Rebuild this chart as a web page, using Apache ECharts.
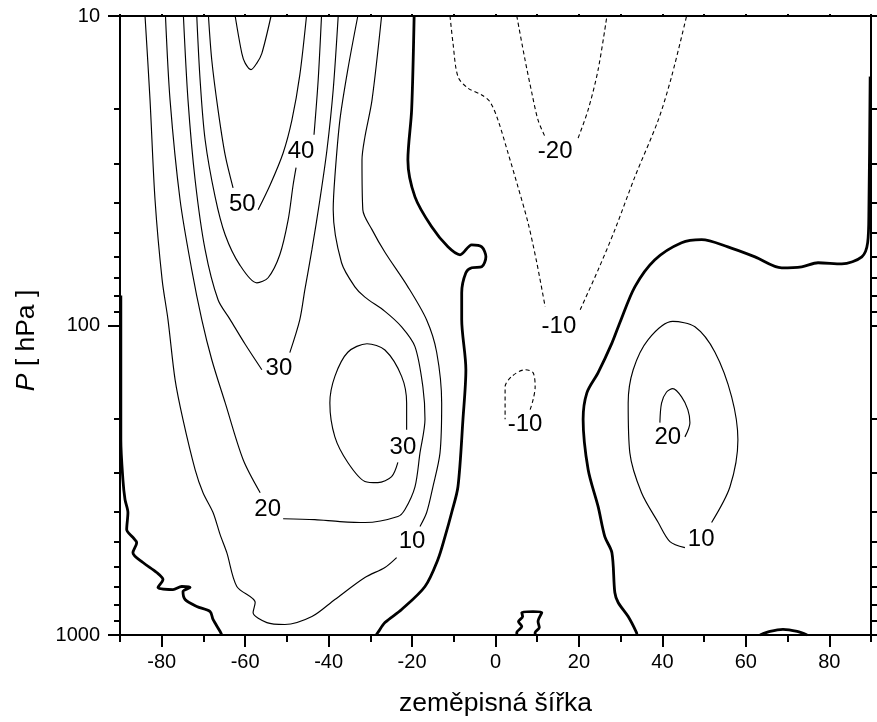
<!DOCTYPE html>
<html>
<head>
<meta charset="utf-8">
<script src="https://cdn.jsdelivr.net/npm/echarts@6/dist/echarts.min.js"></script>
<style>
html, body { margin: 0; padding: 0; background: #fff; }
#chart { width: 877px; height: 722px; }
</style>
</head>
<body>
<div id="chart"></div>
<script>
// ticks
var xMajor = [-80, -60, -40, -20, 0, 20, 40, 60, 80];
var xMinor = [-90, -70, -50, -30, -10, 10, 30, 50, 70, 90];
var xTop = [-90, -80, -70, -60, -50, -40, -30, -20, -10, 0, 10, 20, 30, 40, 50, 60, 70, 80, 90];
var yMajor = [10, 100, 1000];
var yMinor = [20, 30, 40, 50, 60, 70, 80, 90, 200, 300, 400, 500, 600, 700, 800, 900];

// contours [latitude, hPa]; "a"/"b" = pieces either side of the label
var c10a = [[-84.0,10],[-82.8,18.7],[-81.6,39.3],[-79.9,71.2],[-78.5,95.7],[-76.8,149.6],[-74.9,201.5],[-72.0,292],[-70.1,347],[-67.7,402],[-66.0,474],[-64.4,542],[-62.0,697],[-57.6,785],[-58.1,846],[-54.8,912],[-50.5,925],[-44.0,872],[-38.5,768],[-31.3,652],[-26.5,605],[-23.7,562]];
var c10b = [[-18.1,446],[-16.5,402],[-15.0,332],[-13.3,258],[-12.9,178],[-14.1,122],[-16.5,96],[-21.0,75],[-26.5,58],[-29.6,49],[-31.8,42.3],[-32.0,29.2],[-31.3,24.6],[-29.6,18.7],[-27.3,10]];
var c20a = [[-79.1,10],[-78.0,18.7],[-75.6,39.3],[-72.8,66.1],[-70.4,95.7],[-68.0,129],[-64.8,177.6],[-60.5,271],[-56.4,347]];
var c20b = [[-50.9,421],[-43.3,424],[-37.3,430],[-31.3,433],[-23.4,414],[-21.7,393],[-19.3,332],[-18.1,258],[-16.9,201],[-17.4,158],[-19.3,117],[-22.5,101],[-26.5,90],[-31.3,81],[-33.7,75],[-36.9,62.7],[-38.9,42.3],[-38.5,33.1],[-37.3,21.7],[-35.4,14.9],[-33.0,10]];
var c30a = [[-74.8,10],[-73.7,18.7],[-72.0,33.8],[-69.6,56.9],[-66.5,82.6],[-63.6,95.7],[-60.0,115],[-56.0,139]];
var c30b = [[-49.3,122.4],[-46.9,95.7],[-45.7,76.7],[-44.0,56.9],[-42.1,39.3],[-40.4,27.1],[-38.9,17.3],[-37.7,10]];
var c40a = [[-71.6,10],[-70.8,16.1],[-69.6,25.1],[-67.2,38.4],[-64.8,50.9],[-61.3,63.7],[-57.2,72.8],[-54.5,70.1],[-51.7,59.1],[-49.7,45.6],[-48.5,35.1],[-47.8,30.9]];
var c40b = [[-43.5,24.2],[-42.5,16.1],[-41.7,10]];
var c50a = [[-68.8,10],[-68.0,13.9],[-66.5,20.1],[-64.8,28.1],[-62.9,35.9]];
var c50b = [[-56.9,42.3],[-54.0,35.1],[-50.9,27.7],[-48.8,21.7],[-46.9,15.5],[-45.3,10]];
var c60 = [[-62.4,10],[-60.8,13.2],[-60.0,14.2],[-58.6,14.9],[-57.2,14.2],[-56.0,13.2],[-53.8,10]];
var c30loop = [[-21.3,217],[-21.3,178],[-22.5,146],[-26.5,120],[-30.8,114.5],[-35.4,122],[-38.5,146],[-39.7,178],[-38.5,229],[-35.4,277],[-31.3,319],[-28.2,322],[-24.9,308],[-23.4,277]];
var c10right = [[51.8,433],[56.2,332],[58.1,234],[56.6,170],[52.6,122],[47.8,101],[42.5,97],[36.6,111],[33.0,139],[31.8,178],[32.2,258],[35.0,347],[39.0,433],[41.8,499],[45.4,522]];
var c20right = [[39.4,206],[39.8,178],[41.0,164],[42.5,160],[44.6,170],[46.1,187],[46.6,206],[45.4,229]];

// zero line (thick)
var z0mid = [[-19.5,10],[-20.1,20.1],[-21.0,29.2],[-19.3,38.4],[-15.3,48],[-11.4,55.7],[-8.5,59.1],[-5.7,54.9],[-3.3,55.7],[-2.3,60],[-3.3,64.6],[-5.7,65.1],[-7.1,67.5],[-8.1,78.4],[-8.1,95.7],[-7.1,139],[-7.8,201],[-9.0,332],[-10.5,402],[-12.1,481],[-13.8,570],[-16.9,697],[-22.5,827],[-26.5,912],[-28.2,982],[-28.6,1000]];
var z0left = [[-89.8,80],[-89.8,234],[-89.3,315],[-88.8,365],[-88.1,402],[-88.4,456],[-86.9,484],[-86.0,503],[-86.9,542],[-84.5,583],[-81.2,628],[-79.7,662],[-80.9,702],[-77.3,713],[-75.2,697],[-73.2,702],[-74.9,724],[-74.4,768],[-71.6,809],[-68.4,840],[-67.7,891],[-66.0,974],[-65.6,1000]];
var z0blob = [[5.1,1000],[5.1,982],[6.3,939],[5.5,905],[6.5,872],[6.3,846],[9.0,840],[11.1,846],[10.2,905],[10.5,946],[9.5,982],[9.5,1000]];
var z0right = [[33.9,1000],[33.8,982],[31.8,872],[29.4,785],[28.6,729],[27.9,542],[26.2,481],[24.6,385],[22.2,292],[21.0,201],[21.9,165],[24.6,142],[27.9,114],[29.8,98],[33.4,75],[38.2,61.3],[44.6,54],[49.4,52.8],[55.7,55.7],[62.2,60],[68.6,65.1],[73.4,64.6],[77.3,62.7],[83.0,63.2],[87.8,60],[89.2,54],[89.5,42.3],[89.8,15.7]];
var z0bump = [[63.4,1000],[65.8,974],[68.9,959],[72.3,974],[74.7,1000]];

// negative (dashed)
var m10a = [[-10.9,10],[-10.2,12.2],[-9.0,15.7],[-6.6,17.1],[-3.3,18],[-1.3,18.95],[0.6,21.7],[3.0,27.7],[5.4,35.7],[7.8,46.6],[9.9,62.7],[11.9,87]];
var m10b = [[20.3,88.9],[24.6,66.1],[28.6,49.1],[33.4,33.1],[39.0,21.7],[42.2,15.7],[45.8,10]];
var m20a = [[5.1,10],[7.1,13.9],[8.7,17.7],[10.2,21.7],[11.9,24.6]];
var m20b = [[19.8,24.8],[22.2,20.1],[24.6,14.9],[26.7,10]];
var m10loop = [[8.3,187],[9.0,174],[9.5,158],[9.0,142],[7.1,139],[3.9,146],[2.3,158],[2.3,201]];

// contour labels
var labText = ['50', '40', '30', '20', '10', '30', '-20', '-10', '-10', '20', '10'];
var labLat = [-60.7, -46.6, -51.9, -54.6, -20.0, -22.2, 14.3, 15.2, 7.1, 41.3, 49.3];
var labP = [40.7, 27.3, 138, 393, 499, 247, 27.3, 101, 209, 230, 492];

var font = 'Liberation Sans, Arial, Helvetica, sans-serif';

var thinLines = [c10a, c10b, c20a, c20b, c30a, c30b, c40a, c40b, c50a, c50b, c60, c30loop, c10right, c20right];
var thickLines = [z0mid, z0left, z0blob, z0right, z0bump];
var dashLines = [m10a, m10b, m20a, m20b, m10loop];

function contour(data, width, type) {
  return {
    type: 'line',
    data: data,
    xAxisIndex: 0,
    yAxisIndex: 0,
    symbol: 'none',
    smooth: 0.3,
    silent: true,
    lineStyle: { color: '#000', width: width, type: type }
  };
}

var series = [];
thinLines.forEach(function (d) { series.push(contour(d, 1.15, 'solid')); });
thickLines.forEach(function (d) { series.push(contour(d, 2.8, 'solid')); });
dashLines.forEach(function (d) { series.push(contour(d, 1.1, [4, 3])); });

series.push({
  type: 'scatter',
  xAxisIndex: 0,
  yAxisIndex: 0,
  symbolSize: 0,
  silent: true,
  itemStyle: { opacity: 1, color: '#000' },
  data: labText.map(function (t, i) { return { name: t, value: [labLat[i], labP[i]] }; }),
  label: {
    show: true,
    position: 'inside',
    formatter: '{b}',
    color: '#000',
    fontSize: 24,
    fontFamily: font
  }
});

function lineOpt(show) {
  return { show: show, onZero: false, lineStyle: { color: '#000', width: 2 } };
}

function xAx(pos, ticks, len, labels, line, extra) {
  var a = {
    type: 'value', position: pos, min: -90, max: 90,
    axisLine: lineOpt(line),
    axisTick: { show: true, customValues: ticks, length: len, lineStyle: { color: '#000', width: 2 } },
    axisLabel: labels ? { show: true, customValues: ticks, fontSize: 20, color: '#000', fontFamily: font, margin: 17 } : { show: false },
    splitLine: { show: false }
  };
  return Object.assign(a, extra || {});
}
function yAx(pos, ticks, len, labels, line, extra) {
  var a = {
    type: 'log', logBase: 10, position: pos, min: 10, max: 1000, inverse: true,
    axisLine: lineOpt(line),
    axisTick: { show: true, customValues: ticks, length: len, lineStyle: { color: '#000', width: 2 } },
    axisLabel: labels ? {
      show: true, customValues: ticks, fontSize: 20, color: '#000', fontFamily: font, margin: 20,
      formatter: function (v) { return String(Math.round(v)); }
    } : { show: false },
    splitLine: { show: false }
  };
  return Object.assign(a, extra || {});
}

var chart = echarts.init(document.getElementById('chart'));
chart.setOption({
  animation: false,
  backgroundColor: '#fff',
  grid: { left: 120, right: 6, top: 16, bottom: 86, containLabel: false },
  xAxis: [
    xAx('bottom', xMajor, 12, true, true, {
      name: 'zeměpisná šířka', nameLocation: 'middle', nameGap: 55,
      nameTextStyle: { fontSize: 26.5, color: '#000', fontFamily: font }
    }),
    xAx('bottom', xMinor, 7, false, false),
    xAx('top', xTop, 2, false, true)
  ],
  yAxis: [
    yAx('left', yMajor, 12, true, true, {
      name: '{i|P} [ hPa ]', nameLocation: 'middle', nameGap: 80,
      nameTextStyle: { fontSize: 26.5, color: '#000', fontFamily: font, padding: [0, 30, 0, 0],
        rich: { i: { fontStyle: 'italic', fontSize: 26.5, fontFamily: font } } }
    }),
    yAx('left', yMinor, 6, false, false),
    yAx('right', yMajor, 6, false, true),
    yAx('right', yMinor, 6, false, false)
  ],
  series: series
});
</script>
</body>
</html>
